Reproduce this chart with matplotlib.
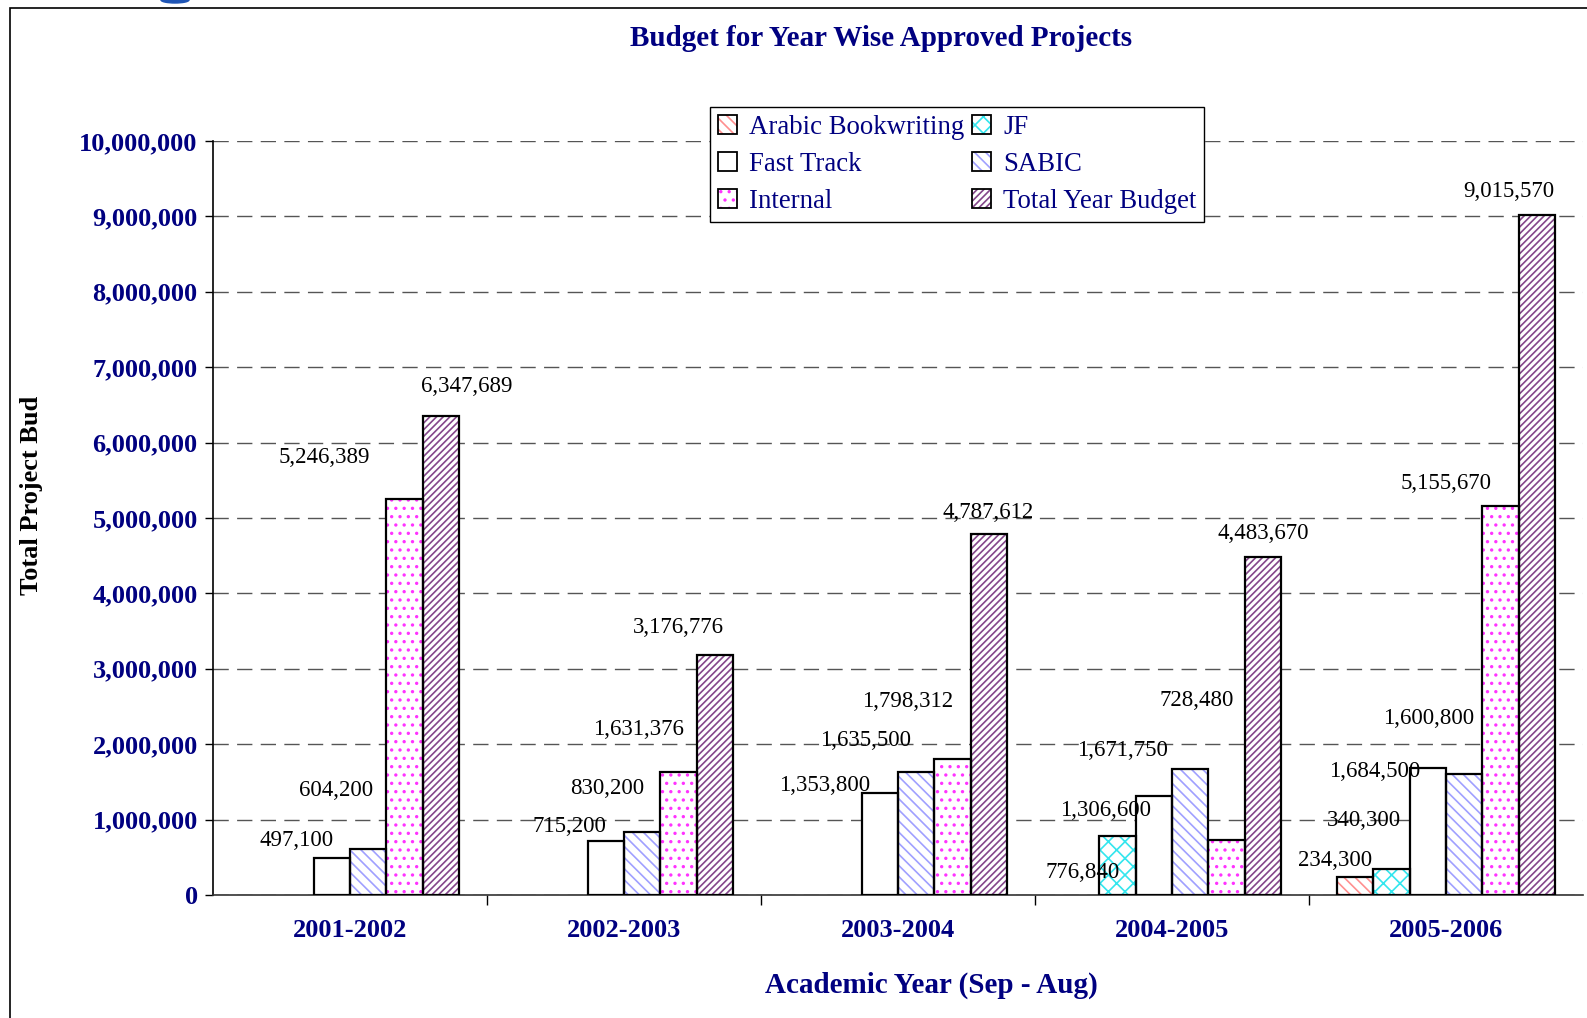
import numpy as np
import matplotlib
matplotlib.use("Agg")
import matplotlib.pyplot as plt
from matplotlib.patches import Rectangle, Patch, Ellipse
from matplotlib.ticker import FuncFormatter

years = ["2001-2002", "2002-2003", "2003-2004", "2004-2005", "2005-2006"]
series = ["Arabic Bookwriting", "JF", "Fast Track", "SABIC", "Internal", "Total Year Budget"]

arabic = [0, 0, 0, 0, 234300]
jf = [0, 0, 0, 776840, 340300]
fast_track = [497100, 715200, 1353800, 1306600, 1684500]
sabic = [604200, 830200, 1635500, 1671750, 1600800]
internal = [5246389, 1631376, 1798312, 728480, 5155670]
total = [6347689, 3176776, 4787612, 4483670, 9015570]
values = [arabic, jf, fast_track, sabic, internal, total]

# styling per series: (hatch, hatch colour)
styles = [("\\\\\\", "#ff8f8f"), ("xx", "#33e6ee"), ("", "white"),
          ("\\\\\\", "#a0a0ff"), ("..", "#ff33ff"), ("/////", "#84468a")]

# label offsets in pixels from the top centre of each bar (Excel placed them oddly)
label_offsets = [
    [None, None, None, None, (-20, 17)],
    [None, None, None, (-35, -36), (-27, 49)],
    [(-35, 17), (-36, 15), (-55, 7), (-48, -14), (-53, -4)],
    [(-32, 59), (-35, 44), (-51, 31), (-68, 18), (-36, 56)],
    [(-80, 42), (-40, 42), (-45, 58), (-30, 140), (-55, 23)],
    [(26, 30), (-37, 28), (-1, 22), (0, 23), (-28, 24)],
]

navy = "#000080"
plt.rcParams["font.family"] = ["Liberation Serif", "DejaVu Serif"]
plt.rcParams["hatch.linewidth"] = 1.2

fig = plt.figure(figsize=(15.87, 10.18), dpi=100)
ax = fig.add_axes([213 / 1587, 1 - 895 / 1018, (1583 - 213) / 1587, (895 - 141) / 1018])

x = np.arange(len(years))
w = 0.133
for i, (name, vals) in enumerate(zip(series, values)):
    hatch, hcol = styles[i]
    pos = x + (i - 2.5) * w
    vals = np.array(vals)
    mask = vals > 0
    ax.bar(pos[mask], vals[mask], w, color="white", hatch=hatch, edgecolor=hcol, linewidth=0, zorder=3)
    ax.bar(pos[mask], vals[mask], w, fill=False, edgecolor="black", linewidth=1.6, zorder=4)
    for j in range(len(years)):
        off = label_offsets[i][j]
        if vals[j] > 0 and off is not None:
            ax.annotate(f"{vals[j]:,}", (pos[j], vals[j]), xytext=off, textcoords="offset pixels",
                        ha="center", va="center", fontsize=16.5, color="black", zorder=5)

ax.set_xlim(-0.5, 4.5)
ax.set_ylim(0, 10000000)
ax.set_yticks(np.arange(0, 10000001, 1000000))
ax.yaxis.set_major_formatter(FuncFormatter(lambda v, p: f"{int(v):,}"))
ax.set_xticks(x)
ax.set_xticklabels(years)
ax.set_xticks(np.arange(0.5, 4.5, 1), minor=True)
ax.tick_params(axis="x", which="major", length=0, pad=17, labelsize=19, labelcolor=navy)
ax.tick_params(axis="x", which="minor", length=7, width=1, direction="out")
ax.tick_params(axis="y", length=6, width=1, pad=5, labelsize=19, labelcolor=navy)
for t in ax.get_xticklabels() + ax.get_yticklabels():
    t.set_fontweight("bold")

ax.grid(axis="y", color="#555555", linestyle=(0, (11, 6)), linewidth=1, zorder=0)
ax.spines["top"].set_visible(False)
ax.spines["right"].set_visible(False)
ax.spines["left"].set_linewidth(1.2)
ax.spines["bottom"].set_linewidth(1.2)
ax.spines["bottom"].set_color("#333333")

fig.text(0.555, 0.962, "Budget for Year Wise Approved Projects", ha="center", va="center",
         fontsize=21, fontweight="bold", color=navy)
fig.text(0.020, 0.513, "Total Project Bud", ha="center", va="center", rotation=90,
         fontsize=19, fontweight="bold", color="black")
fig.text(0.587, 0.032, "Academic Year (Sep - Aug)", ha="center", va="center",
         fontsize=21, fontweight="bold", color=navy)

handles = {}
for i, name in enumerate(series):
    hatch, hcol = styles[i]
    fill = Patch(facecolor="white", hatch=hatch, edgecolor=hcol, linewidth=0)
    border = Patch(facecolor="none", edgecolor="black", linewidth=1.3)
    handles[name] = (fill, border)
order = ["Arabic Bookwriting", "Fast Track", "Internal", "JF", "SABIC", "Total Year Budget"]
leg = fig.legend([handles[n] for n in order], order, loc="upper left",
                 bbox_to_anchor=(710 / 1587, 1 - 107 / 1018), borderaxespad=0, ncol=2, fontsize=19.3,
                 frameon=True, fancybox=False, edgecolor="black", framealpha=1,
                 handlelength=0.7, handleheight=0.7, handletextpad=0.45,
                 columnspacing=0.3, labelspacing=0.45, borderpad=0.3)
leg.get_frame().set_linewidth(1)
for t in leg.get_texts():
    t.set_color(navy)

fig.add_artist(Rectangle((10 / 1587, -0.05), 1.1, 1 - 7.5 / 1018 + 0.05, transform=fig.transFigure,
                         fill=False, edgecolor="black", linewidth=1.2, clip_on=False))
# bit of a blue logo cut off at the top edge
fig.add_artist(Ellipse((175 / 1587, 1.0), 28 / 1587, 6 / 1018, transform=fig.transFigure,
                       color="#1f55b5", clip_on=False))

fig.savefig("out.png", dpi=100)
